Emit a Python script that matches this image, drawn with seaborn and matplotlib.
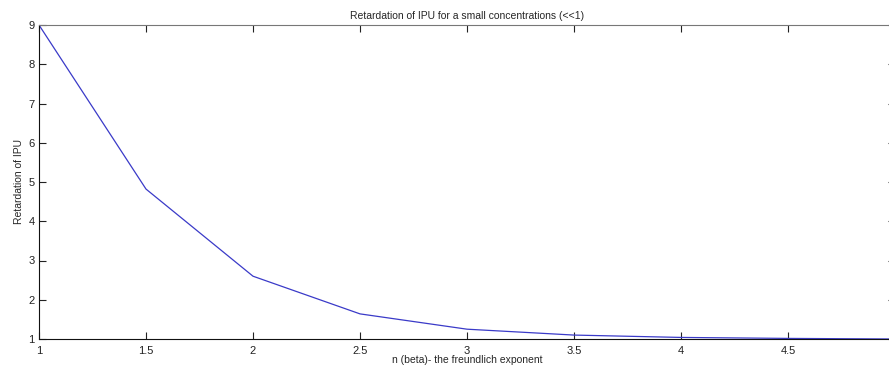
import matplotlib
matplotlib.use("Agg")
import matplotlib.pyplot as plt
import seaborn as sns
import pandas as pd

n_values = [1.0, 1.5, 2.0, 2.5, 3.0, 3.5, 4.0, 4.5, 5.0]
retardation = [9.0, 4.82, 2.6, 1.64, 1.25, 1.1, 1.04, 1.015, 1.0]
x_ticks = [1, 1.5, 2, 2.5, 3, 3.5, 4, 4.5]
x_tick_labels = ["1", "1.5", "2", "2.5", "3", "3.5", "4", "4.5"]
y_ticks = [1, 2, 3, 4, 5, 6, 7, 8, 9]

sns.set_style("ticks")
plt.rcParams['font.family'] = ['Liberation Sans', 'DejaVu Sans']

df = pd.DataFrame({"n": n_values, "R": retardation})

fig = plt.figure(figsize=(8.89, 3.70), dpi=100)
ax = fig.add_axes([39/889, 31/370, 856/889, 314/370])
sns.lineplot(data=df, x="n", y="R", ax=ax, color="#3a3ac8", linewidth=0.9)

ax.set_xlim(1, 5)
ax.set_ylim(1, 9)
ax.set_xticks(x_ticks)
ax.set_xticklabels(x_tick_labels)
ax.set_yticks(y_ticks)
ax.tick_params(direction="in", length=5, width=0.8, labelsize=8, colors="#222222",
               top=True, right=True, pad=3)
ax.tick_params(axis="x", pad=5)
for s in ["left", "bottom"]:
    ax.spines[s].set_color("#111111")
    ax.spines[s].set_linewidth(0.8)
for s in ["top", "right"]:
    ax.spines[s].set_visible(True)
    ax.spines[s].set_color("#777777")
    ax.spines[s].set_linewidth(0.8)

ax.set_title("Retardation of IPU for a small concentrations (<<1)", fontsize=7.5, pad=4)
ax.set_xlabel("n (beta)- the freundlich exponent", fontsize=7.5, labelpad=-1)
ax.set_ylabel("Retardation of IPU", fontsize=7.5, labelpad=3)

fig.savefig("out.png", dpi=100)
